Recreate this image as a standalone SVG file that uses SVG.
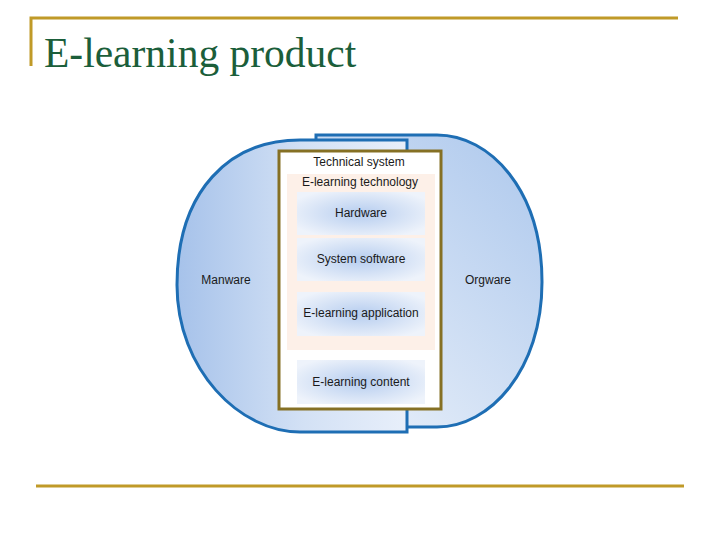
<svg xmlns="http://www.w3.org/2000/svg" width="720" height="540" viewBox="0 0 720 540">
<defs>
<linearGradient id="gl" x1="0" y1="0" x2="1" y2="0">
<stop offset="0" stop-color="#A6C2EA"/>
<stop offset="0.55" stop-color="#D3E1F5"/>
<stop offset="1" stop-color="#E8EFFA"/>
</linearGradient>
<linearGradient id="gr" x1="0.2" y1="1" x2="0.9" y2="0.1">
<stop offset="0" stop-color="#E6EEF9"/>
<stop offset="1" stop-color="#B3CCEE"/>
</linearGradient>
<radialGradient id="gb" cx="0.5" cy="0.5" r="0.6" fx="0.5" fy="0.5">
<stop offset="0" stop-color="#B6CDEF"/>
<stop offset="1" stop-color="#EEF3FB"/>
</radialGradient>
<style>
.frame{stroke:#C09A28;stroke-width:3;fill:none}
.blob{stroke:#1E6EB4;stroke-width:3}
.t{font-family:"Liberation Sans",Arial,sans-serif;font-size:12px;fill:#1a1a1a;text-anchor:middle}
.box{fill:url(#gb)}
</style>
</defs>
<polyline class="frame" points="31,66 31,18 678,18"/>
<line class="frame" x1="36" y1="486" x2="684" y2="486"/>
<text x="44" y="67" font-family="'Liberation Serif','Times New Roman',serif" font-size="41.5" fill="#1B5E3A">E-learning product</text>
<g id="orgware">
<path class="blob" fill="url(#gr)" d="M316,135 L437,135 C490,135 542,190 542,282 C542,370 490,427 437,427 L316,427 Z"/>
<text class="t" x="488" y="284">Orgware</text>
</g>
<g id="manware">
<path class="blob" fill="url(#gl)" d="M407,140 L300,140 C230,140 177,190 177,285 C177,370 240,432 300,432 L407,432 Z"/>
<text class="t" x="226" y="284">Manware</text>
</g>
<g id="technical-system">
<rect x="279" y="151" width="162" height="258" fill="#FFFFFF" stroke="#857024" stroke-width="3"/>
<text class="t" x="359" y="166">Technical system</text>
</g>
<g id="elearning-technology">
<rect x="287" y="174" width="148" height="176" fill="#FDF0E8"/>
<text class="t" x="360" y="186">E-learning technology</text>
</g>
<g id="hardware">
<rect class="box" x="297" y="192" width="128" height="43"/>
<text class="t" x="361" y="217">Hardware</text>
</g>
<g id="system-software">
<rect class="box" x="297" y="238" width="128" height="43"/>
<text class="t" x="361" y="263">System software</text>
</g>
<g id="elearning-application">
<rect class="box" x="297" y="292" width="128" height="44"/>
<text class="t" x="361" y="317">E-learning application</text>
</g>
<g id="elearning-content">
<rect class="box" x="297" y="360" width="128" height="44"/>
<text class="t" x="361" y="386">E-learning content</text>
</g>
</svg>
